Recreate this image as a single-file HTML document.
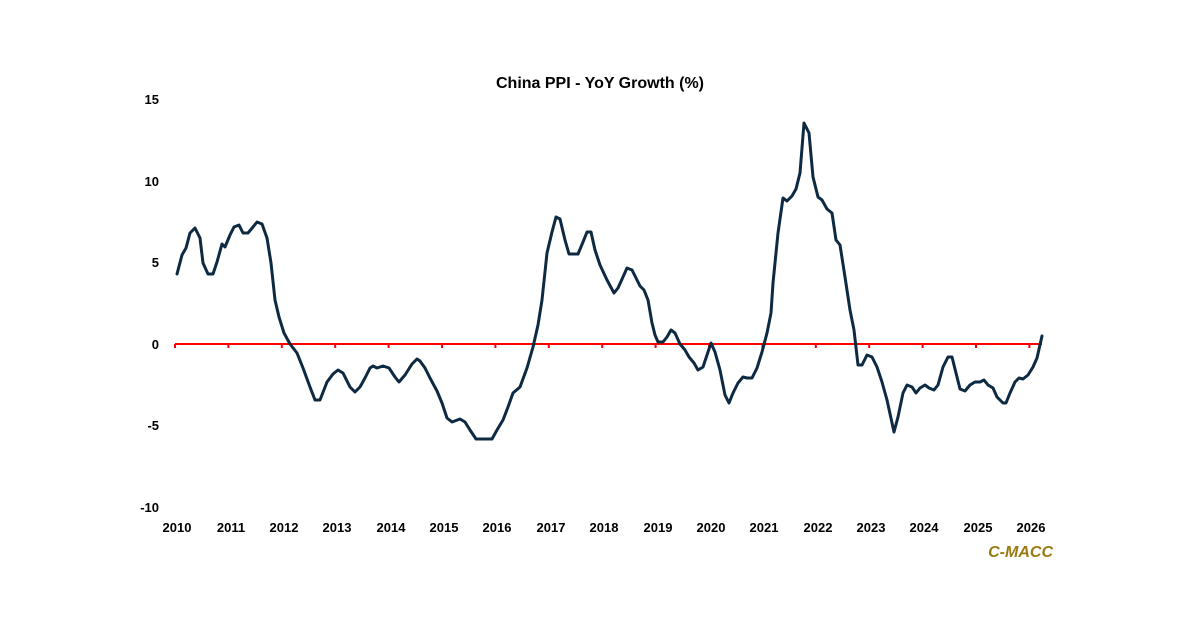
<!DOCTYPE html>
<html><head><meta charset="utf-8"><style>
body{margin:0;background:#fff;}
svg{display:block;font-family:"Liberation Sans",sans-serif;}
</style></head><body>
<svg width="1200" height="627" viewBox="0 0 1200 627">
<text x="600" y="88" text-anchor="middle" font-size="16" font-weight="bold" fill="#000">China PPI - YoY Growth (%)</text>
<g font-size="13" font-weight="bold" fill="#000" text-anchor="end">
<text x="159" y="104">15</text>
<text x="159" y="186">10</text>
<text x="159" y="267">5</text>
<text x="159" y="349">0</text>
<text x="159" y="430">-5</text>
<text x="159" y="512">-10</text>
</g>
<line x1="175" y1="344" x2="1042" y2="344" stroke="#ff0000" stroke-width="2"/>
<g stroke="#ff0000" stroke-width="2">
<line x1="175" y1="344" x2="175" y2="348"/><line x1="228.4" y1="344" x2="228.4" y2="348"/><line x1="281.8" y1="344" x2="281.8" y2="348"/><line x1="335.2" y1="344" x2="335.2" y2="348"/><line x1="388.6" y1="344" x2="388.6" y2="348"/><line x1="442" y1="344" x2="442" y2="348"/><line x1="495.4" y1="344" x2="495.4" y2="348"/><line x1="548.8" y1="344" x2="548.8" y2="348"/><line x1="602.2" y1="344" x2="602.2" y2="348"/><line x1="655.6" y1="344" x2="655.6" y2="348"/><line x1="709" y1="344" x2="709" y2="348"/><line x1="762.4" y1="344" x2="762.4" y2="348"/><line x1="815.8" y1="344" x2="815.8" y2="348"/><line x1="869.2" y1="344" x2="869.2" y2="348"/><line x1="922.6" y1="344" x2="922.6" y2="348"/><line x1="976" y1="344" x2="976" y2="348"/><line x1="1029.4" y1="344" x2="1029.4" y2="348"/>
</g>
<g font-size="13" font-weight="bold" fill="#000" text-anchor="middle">
<text x="177" y="532">2010</text><text x="231" y="532">2011</text><text x="284" y="532">2012</text><text x="337" y="532">2013</text><text x="391" y="532">2014</text><text x="444" y="532">2015</text><text x="497" y="532">2016</text><text x="551" y="532">2017</text><text x="604" y="532">2018</text><text x="658" y="532">2019</text><text x="711" y="532">2020</text><text x="764" y="532">2021</text><text x="818" y="532">2022</text><text x="871" y="532">2023</text><text x="924" y="532">2024</text><text x="978" y="532">2025</text><text x="1031" y="532">2026</text>
</g>
<text x="1053" y="557" text-anchor="end" font-size="16" font-weight="bold" font-style="italic" fill="#9a7a10">C-MACC</text>
<polyline fill="none" stroke="#0d2a42" stroke-width="3" stroke-linejoin="round" stroke-linecap="round" points="177,274 182,255 186,248 190,233 195,228 200,238 203,263 208,274 213,274 217,262 222,244 225,247 230,235 234,227 239,225 243,233 248,233 253,227 257,222 262,224 267,238 271,263 275,300 279,317 284,333 290,344 297,353 303,368 310,387 315,400 320,400 327,382 333,374 338,370 343,373 350,387 355,392 360,387 365,378 370,368 373,366 377,368 383,366 389,368 395,377 399,382 405,375 412,364 417,359 420,361 425,368 430,378 437,391 442,403 447,418 452,422 460,419 465,422 470,430 476,439 492,439 497,430 503,420 508,407 513,393 520,387 527,368 533,347 538,325 542,300 547,253 552,232 556,217 560,219 565,240 569,254 578,254 583,242 587,232 591,232 595,250 600,265 607,280 614,293 618,288 623,277 627,268 632,270 637,280 640,286 644,290 648,300 652,323 655,335 658,342 663,342 667,337 671,330 675,333 680,344 685,350 689,357 694,363 698,370 703,367 707,355 711,343 715,352 720,370 725,395 729,403 733,393 738,383 743,377 747,378 752,378 757,368 762,352 767,333 771,313 773,283 778,233 783,198 787,201 792,196 796,189 800,173 804,123 809,133 813,177 818,197 822,200 827,209 832,213 836,240 840,245 845,277 850,310 854,330 858,365 862,365 867,355 872,357 877,367 882,382 887,400 894,432 898,417 903,393 907,385 912,387 916,393 920,388 925,385 929,388 934,390 938,385 943,367 948,357 952,357 956,373 960,389 965,391 970,385 975,382 980,382 984,380 988,385 993,388 997,397 1003,403 1006,403 1010,393 1015,382 1019,378 1023,379 1028,375 1033,367 1037,358 1042,336"/>
</svg>
</body></html>
